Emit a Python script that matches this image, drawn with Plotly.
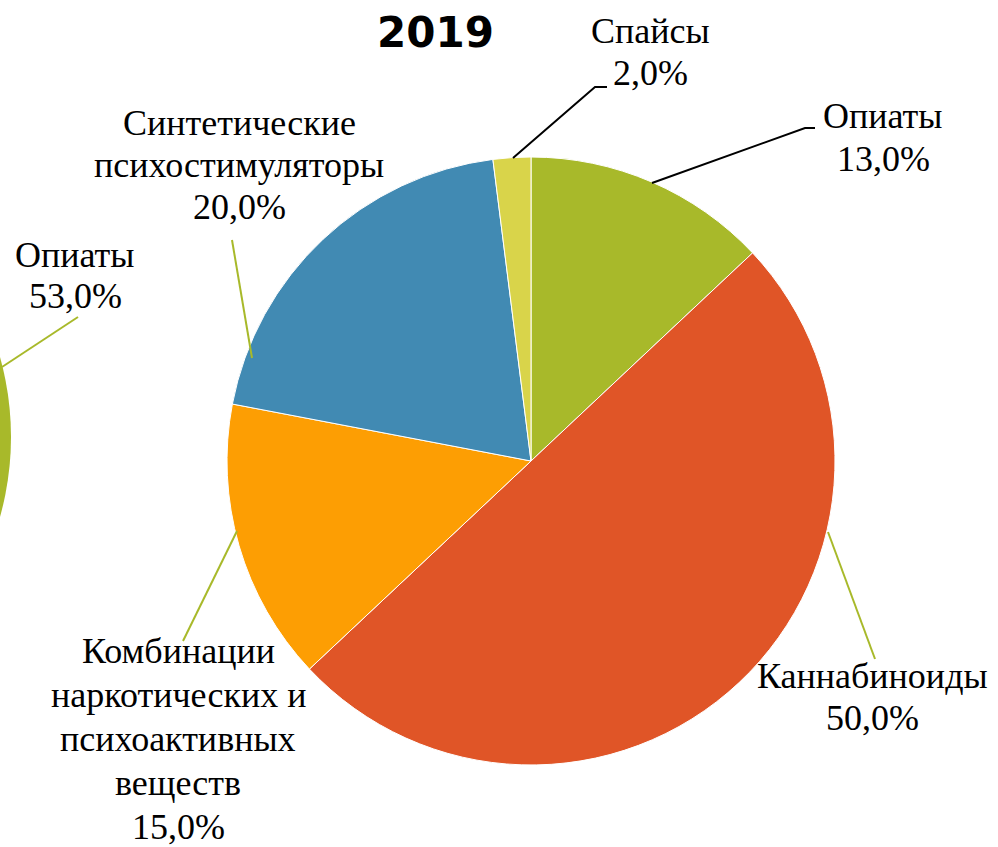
import plotly.graph_objects as go

W, H = 998, 847

categories = ["Опиаты", "Каннабиноиды", "Комбинации наркотических и психоактивных веществ",
              "Синтетические психостимуляторы", "Спайсы"]
values = [13.0, 50.0, 15.0, 20.0, 2.0]
colors = ["#a8b92a", "#e05527", "#fd9e03", "#418ab3", "#d9d44a"]
label_lines = [["Опиаты", "13,0%"],
               ["Каннабиноиды", "50,0%"],
               ["Комбинации", "наркотических и", "психоактивных", "веществ", "15,0%"],
               ["Синтетические", "психостимуляторы", "20,0%"],
               ["Спайсы", "2,0%"]]
prev_lines = ["Опиаты", "53,0%"]
title_text = "2019"

cx, cy, r = 531, 461, 304
FS = 36

def px(x):
    return x / W

def py(y):
    return 1 - y / H

fig = go.Figure()
fig.add_trace(go.Pie(
    labels=categories, values=values, sort=False, direction="clockwise", rotation=0,
    marker=dict(colors=colors, line=dict(color="white", width=1)),
    textinfo="none", hoverinfo="label+percent", showlegend=False,
    domain=dict(x=[px(cx - r), px(cx + r)], y=[py(cy + r), py(cy - r)]),
))

shapes = []
# partial previous-year pie cut off at left edge
pr = 296
pcx, pcy = 11 - pr, 437
shapes.append(dict(type="circle", xref="paper", yref="paper",
                   x0=px(pcx - pr), x1=px(pcx + pr), y0=py(pcy + pr), y1=py(pcy - pr),
                   fillcolor="#a8b92a", line=dict(width=0), layer="below"))

def seg(pts, color):
    path = "M " + " L ".join(f"{px(x)},{py(y)}" for x, y in pts)
    shapes.append(dict(type="path", xref="paper", yref="paper", path=path,
                       line=dict(color=color, width=2)))

seg([(513, 158), (595, 87), (607, 87)], "black")
seg([(652, 183), (805, 128), (815, 128)], "black")
seg([(252, 358), (232, 240)], "#a8b92a")
seg([(237, 531), (183, 641)], "#a8b92a")
seg([(828, 532), (875, 659)], "#a8b92a")
seg([(2, 367), (78, 317)], "#a8b92a")

# (center x, first baseline y, line step)
label_pos = [(883, 128, 43), (872, 688, 42), (178, 663, 44), (239, 135, 42), (650, 43, 42)]
font = dict(family="Liberation Serif", size=FS, color="black")
annotations = []

def add_block(lines, x, y0, step):
    for i, t in enumerate(lines):
        base = y0 + i * step
        annotations.append(dict(text=t, x=px(x), y=py(base - 0.3375 * FS), xref="paper", yref="paper",
                                xanchor="center", yanchor="middle", showarrow=False, font=font))

for lines, (x, y0, step) in zip(label_lines, label_pos):
    add_block(lines, x, y0, step)
add_block(prev_lines, 75, 267, 41)

annotations.append(dict(text=f"<b>{title_text}</b>", x=px(435), y=py(32), xref="paper", yref="paper",
                        xanchor="center", yanchor="middle", showarrow=False,
                        font=dict(family="DejaVu Sans", size=42, color="black")))

fig.update_layout(width=W, height=H, margin=dict(l=0, r=0, t=0, b=0),
                  paper_bgcolor="white", plot_bgcolor="white",
                  shapes=shapes, annotations=annotations)
fig.write_html("out.html", config={"displayModeBar": False},
               post_script="document.body.style.margin='0px';document.body.style.overflow='hidden';")
